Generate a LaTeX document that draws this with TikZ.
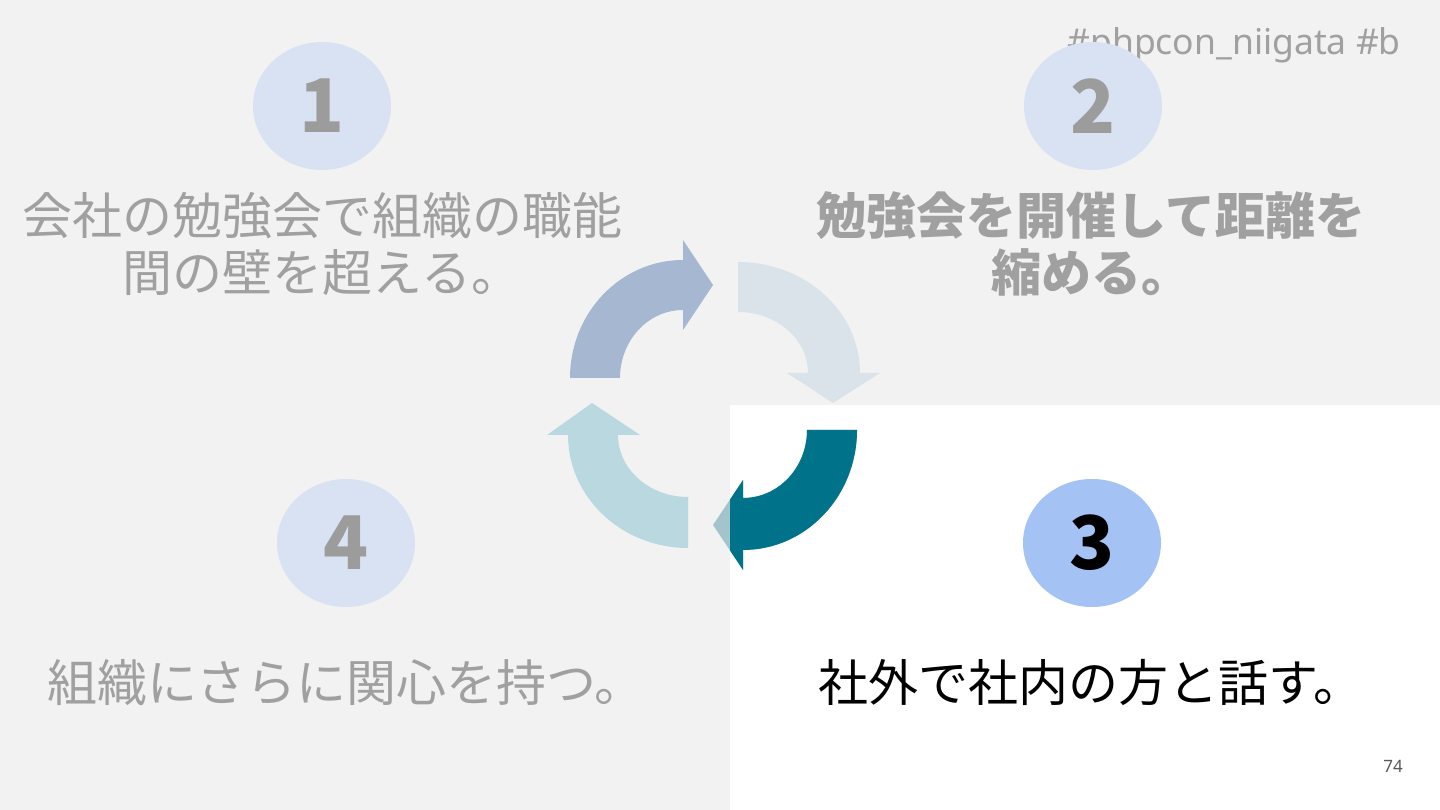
\documentclass[tikz,border=0pt]{standalone}
\usepackage{fontspec}
\newfontfamily\jp{Noto Sans CJK JP}
\newfontfamily\lat{Noto Sans}
\definecolor{bggray}{HTML}{F2F2F2}
\definecolor{txtgray}{HTML}{A0A0A0}
\definecolor{numgray}{HTML}{9C9C9C}
\definecolor{palecirc}{HTML}{D9E2F2}
\definecolor{bluecirc}{HTML}{A4C2F4}
\definecolor{aone}{HTML}{A6B7D1}
\definecolor{atwo}{HTML}{D9E3E9}
\definecolor{afour}{HTML}{BAD8E0}
\definecolor{teal}{HTML}{00728A}
\definecolor{paleteal}{HTML}{A4C4CC}
\definecolor{pagegray}{HTML}{595959}
\tikzset{
  numcirc/.style={ellipse, minimum width=138pt, minimum height=128pt, inner sep=0pt, fill=palecirc},
  numtxt/.style={font=\jp\bfseries\fontsize{74}{74}\selectfont, text=numgray},
  bodytxt/.style={font=\jp\fontsize{50}{57}\selectfont, text=txtgray, align=center, inner sep=0pt},
}
\usetikzlibrary{shapes.geometric}
\begin{document}
\begin{tikzpicture}[x=1pt,y=1pt]
\useasboundingbox (0,0) rectangle (1440,810);
\fill[bggray] (0,0) rectangle (1440,810);
\fill[white] (730,0) rectangle (1440,405);
% hashtag
\node[anchor=base east, inner sep=0pt, font=\lat\fontsize{35.5}{35.5}\selectfont, text=txtgray] (tag) at (1401,755) {\#phpcon\_niigata \#b};
% circles
\node[numcirc] (c1) at (322,704) {};
\node[numcirc] (c2) at (1093,704) {};
\node[numcirc] (c4) at (346,267) {};
\node[numcirc, fill=bluecirc] (c3) at (1092,267) {};
\node[numtxt] (n1) at (c1) {1};
\node[numtxt] (n2) at (c2) {2};
\node[numtxt] (n4) at (c4) {4};
\node[numtxt, text=black] (n3) at (c3) {3};
% texts
\node[bodytxt] (t1) at (322,566) {会社の勉強会で組織の職能\\間の壁を超える。};
\node[bodytxt, font=\jp\bfseries\fontsize{50}{57}\selectfont] (t2) at (1091,566) {勉強会を開催して距離を\\縮める。};
\node[bodytxt] (t4) at (346,127) {組織にさらに関心を持つ。};
\node[bodytxt, text=black] (t3) at (1091,127) {社外で社内の方と話す。};
% arrows
\fill[aone] (570,432) arc[start angle=180,end angle=90,x radius=113,y radius=118]
  -- (683,570) -- (713,525) -- (683,480) -- (683,500)
  arc[start angle=90,end angle=180,x radius=63,y radius=68] -- cycle;
\fill[atwo] (738,548) arc[start angle=90,end angle=0,x radius=122,y radius=111]
  -- (880,437) -- (833,407) -- (787,437) -- (808,437)
  arc[start angle=0,end angle=90,x radius=70,y radius=61] -- cycle;
\fill[afour] (688,262) arc[start angle=270,end angle=180,x radius=120,y radius=113]
  -- (547,375) -- (592,407) -- (640,375) -- (618,375)
  arc[start angle=180,end angle=270,x radius=70,y radius=62] -- cycle;
\fill[paleteal] (857,380) arc[start angle=0,end angle=-90,x radius=114,y radius=120]
  -- (743,240) -- (713,285) -- (743,330) -- (743,312)
  arc[start angle=-90,end angle=0,x radius=64,y radius=68] -- cycle;
\begin{scope}
\clip (730,0) rectangle (1440,405);
\fill[teal] (857,380) arc[start angle=0,end angle=-90,x radius=114,y radius=120]
  -- (743,240) -- (713,285) -- (743,330) -- (743,312)
  arc[start angle=-90,end angle=0,x radius=64,y radius=68] -- cycle;
\end{scope}
% page number
\node[font=\lat\fontsize{17}{17}\selectfont, text=pagegray, inner sep=0pt] (pg) at (1393,44) {74};
\end{tikzpicture}
\end{document}
